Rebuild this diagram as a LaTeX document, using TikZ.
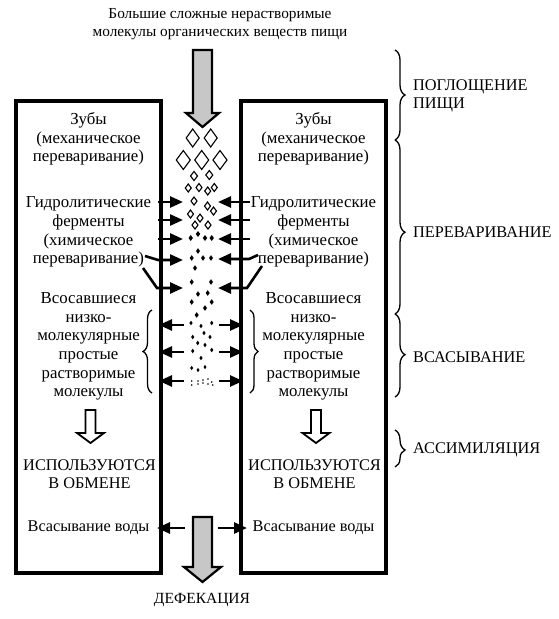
\documentclass[tikz,border=0pt]{standalone}
\usepackage{fontspec}
\setmainfont{Liberation Serif}
\usetikzlibrary{arrows.meta,decorations.pathreplacing}
\begin{document}
\begin{tikzpicture}[x=1pt,y=-1pt,
 box/.style={draw,line width=3.2pt,minimum width=145pt,minimum height=472pt,inner sep=0pt},
 txt/.style={align=center,font=\fontsize{16.8}{18.7}\selectfont,inner sep=0pt},
 lbl/.style={align=left,anchor=west,font=\fontsize{16.3}{18}\selectfont,inner sep=0pt},
 conn/.style={line width=2.6pt,-{Triangle[length=13pt,width=11pt]}},
 brc/.style={decorate,decoration={brace,amplitude=#1},line width=1.3pt},
 bigarrow/.style={draw,line width=2.2pt,fill=black!22,line join=miter},
 hollow/.style={draw,line width=1.8pt,fill=white,line join=miter},
 odia/.style={draw,line width=1.1pt,line join=miter},
 fdia/.style={fill=black}]
\useasboundingbox (0,0) rectangle (559,619);
% boxes
\node[box] (LB) at (88.5,337) {};
\node[box] (RB) at (313.5,337) {};
% top label and arrow
\node[txt,font=\fontsize{15.3}{18}\selectfont] (top) at (220,24) {Большие сложные нерастворимые\\молекулы органических веществ пищи};
\path[bigarrow] (193,50) -- (212,50) -- (212,113) -- (219,113) -- (202.5,127) -- (186,113) -- (193,113) -- cycle;
% bottom arrow
\path[bigarrow] (193,517) -- (212,517) -- (212,567) -- (221,567) -- (202.5,582) -- (184,567) -- (193,567) -- cycle;
\node[txt,font=\fontsize{15.5}{18}\selectfont] (def) at (202,600) {ДЕФЕКАЦИЯ};
% box texts
\foreach \c/\n in {88.5/L,313.5/R}{
  \node[txt] (teeth\n) at (\c,139) {Зубы\\(механическое\\переваривание)};
  \node[txt] (hydro\n) at (\c,232) {Гидролитические\\ферменты\\(химическое\\переваривание)};
  \node[txt] (abs\n) at (\c,346.5) {Всосавшиеся\\низко-\\молекулярные\\простые\\растворимые\\молекулы};
  \node[txt,font=\fontsize{16.3}{18}\selectfont] (use\n) at (\c+1,474) {ИСПОЛЬЗУЮТСЯ\\В ОБМЕНЕ};
  \node[txt,font=\fontsize{16.3}{18}\selectfont] (wat\n) at (\c,528) {Всасывание воды};
}
% hollow arrows
\foreach \c in {90.5,316}{
  \path[hollow] (\c-5,410) -- (\c+5,410) -- (\c+5,433) -- (\c+13.5,433) -- (\c,443) -- (\c-13.5,433) -- (\c-5,433) -- cycle;
}
% open diamonds
\foreach \x/\y/\w/\h in {192.7/138/6.5/9,210.7/138/6.5/9,
  183.3/160/7/9.5,201.7/160/7/9.5,220/160/7/9.5,
  194/176/3.5/4.5,209.3/175/3.5/4.5,
  188.3/188/3/4,199/187.5/3/4,207.7/191/3/4,214.3/187.5/3/4,
  194/201/3/4,207.5/206/3/4,213.5/211/3/4,190.5/214/3/4,200/218/3/4,
  195/225/3/4,208/225/3/4}{
  \path[odia] (\x-\w,\y) -- (\x,\y-\h) -- (\x+\w,\y) -- (\x,\y+\h) -- cycle;
}
% filled diamonds
\foreach \x/\y/\w/\h in {190.7/238/2.2/3,198/234/2.2/3,205/238/2.2/3,211.7/238/2.2/3,
  198/251/2/2.8,191.7/258/2/2.8,203/258/2/2.8,211/258/2/2.8,195/268/2/2.8,
  191.7/282/2/2.8,211/282/2/2.8,198/294/2/2.8,207.7/293/2/2.8,
  191.7/302/2/2.8,211.7/302/2/2.8,205/308/2/2.8,196.7/315/2/2.8,
  191/323/1.6/2.3,201/326/1.6/2.3,211.7/323/1.6/2.3,204/333/1.6/2.3,
  192.7/337/1.6/2.3,210/337/1.6/2.3,197.7/343/1.6/2.3,205/345/1.6/2.3,
  192.7/351/1.6/2.3,211.7/350/1.6/2.3,201/358/1.6/2.3,
  191.7/368/1.5/2.1,198/370/1.5/2.1,205/367/1.5/2.1}{
  \path[fdia] (\x-\w,\y) -- (\x,\y-\h) -- (\x+\w,\y) -- (\x,\y+\h) -- cycle;
}
\foreach \x/\y in {191.7/381,198/381,203/380,208/379,211.7/382,
  191.7/385,198/384,203/383,208/384,212.7/385}{
  \fill (\x,\y) circle (0.9);
}
% hydrolysis arrows
\foreach \y [count=\i] in {202,220,239}{
  \coordinate (hl\i) at (158,\y); \coordinate (hlt\i) at (183,\y);
  \coordinate (hr\i) at (250,\y); \coordinate (hrt\i) at (218,\y);
  \draw[conn] (hl\i) -- (hlt\i);
  \draw[conn] (hr\i) -- (hrt\i);
}
\coordinate (hl4a) at (145,256); \coordinate (hl4) at (158,260); \coordinate (hlt4) at (183,260);
\coordinate (hr4a) at (258,255); \coordinate (hr4) at (249,259); \coordinate (hrt4) at (218,259);
\draw[conn] (hl4a) -- (hl4) -- (hlt4);
\draw[conn] (hr4a) -- (hr4) -- (hrt4);
\coordinate (hl5a) at (143,268); \coordinate (hl5) at (157,288); \coordinate (hlt5) at (183,288);
\coordinate (hr5a) at (262,266); \coordinate (hr5) at (247,288); \coordinate (hrt5) at (218,288);
\draw[conn,line join=miter] (hl5a) -- (hl5) -- (hlt5);
\draw[conn,line join=miter] (hr5a) -- (hr5) -- (hrt5);
% absorption arrows
\foreach \y [count=\i] in {325,352,381}{
  \coordinate (al\i) at (184,\y); \coordinate (alt\i) at (159,\y);
  \coordinate (ar\i) at (219,\y); \coordinate (art\i) at (243,\y);
  \draw[conn] (al\i) -- (alt\i);
  \draw[conn] (ar\i) -- (art\i);
}
% water arrows
\coordinate (wl) at (185,528); \coordinate (wlt) at (157,528);
\coordinate (wr) at (218,528); \coordinate (wrt) at (247,528);
\draw[conn] (wl) -- (wlt);
\draw[conn] (wr) -- (wrt);
% inner braces
\draw[brc=9pt] (152,393) -- (152,310);
\draw[brc=8pt] (250,310) -- (250,393);
% stage braces
\draw[brc=10pt] (395,50) -- (395,140);
\draw[brc=10pt,decoration={aspect=0.53}] (395,140) -- (395,314);
\draw[brc=10pt,decoration={aspect=0.49}] (395,314) -- (395,397);
\draw[brc=10pt,decoration={aspect=0.54}] (395,430) -- (395,467);
% stage labels
\node[lbl] (s1) at (413,96) {ПОГЛОЩЕНИЕ\\ПИЩИ};
\node[lbl] (s2) at (413,232) {ПЕРЕВАРИВАНИЕ};
\node[lbl] (s3) at (413,357) {ВСАСЫВАНИЕ};
\node[lbl] (s4) at (413,450) {АССИМИЛЯЦИЯ};
\end{tikzpicture}
\end{document}
